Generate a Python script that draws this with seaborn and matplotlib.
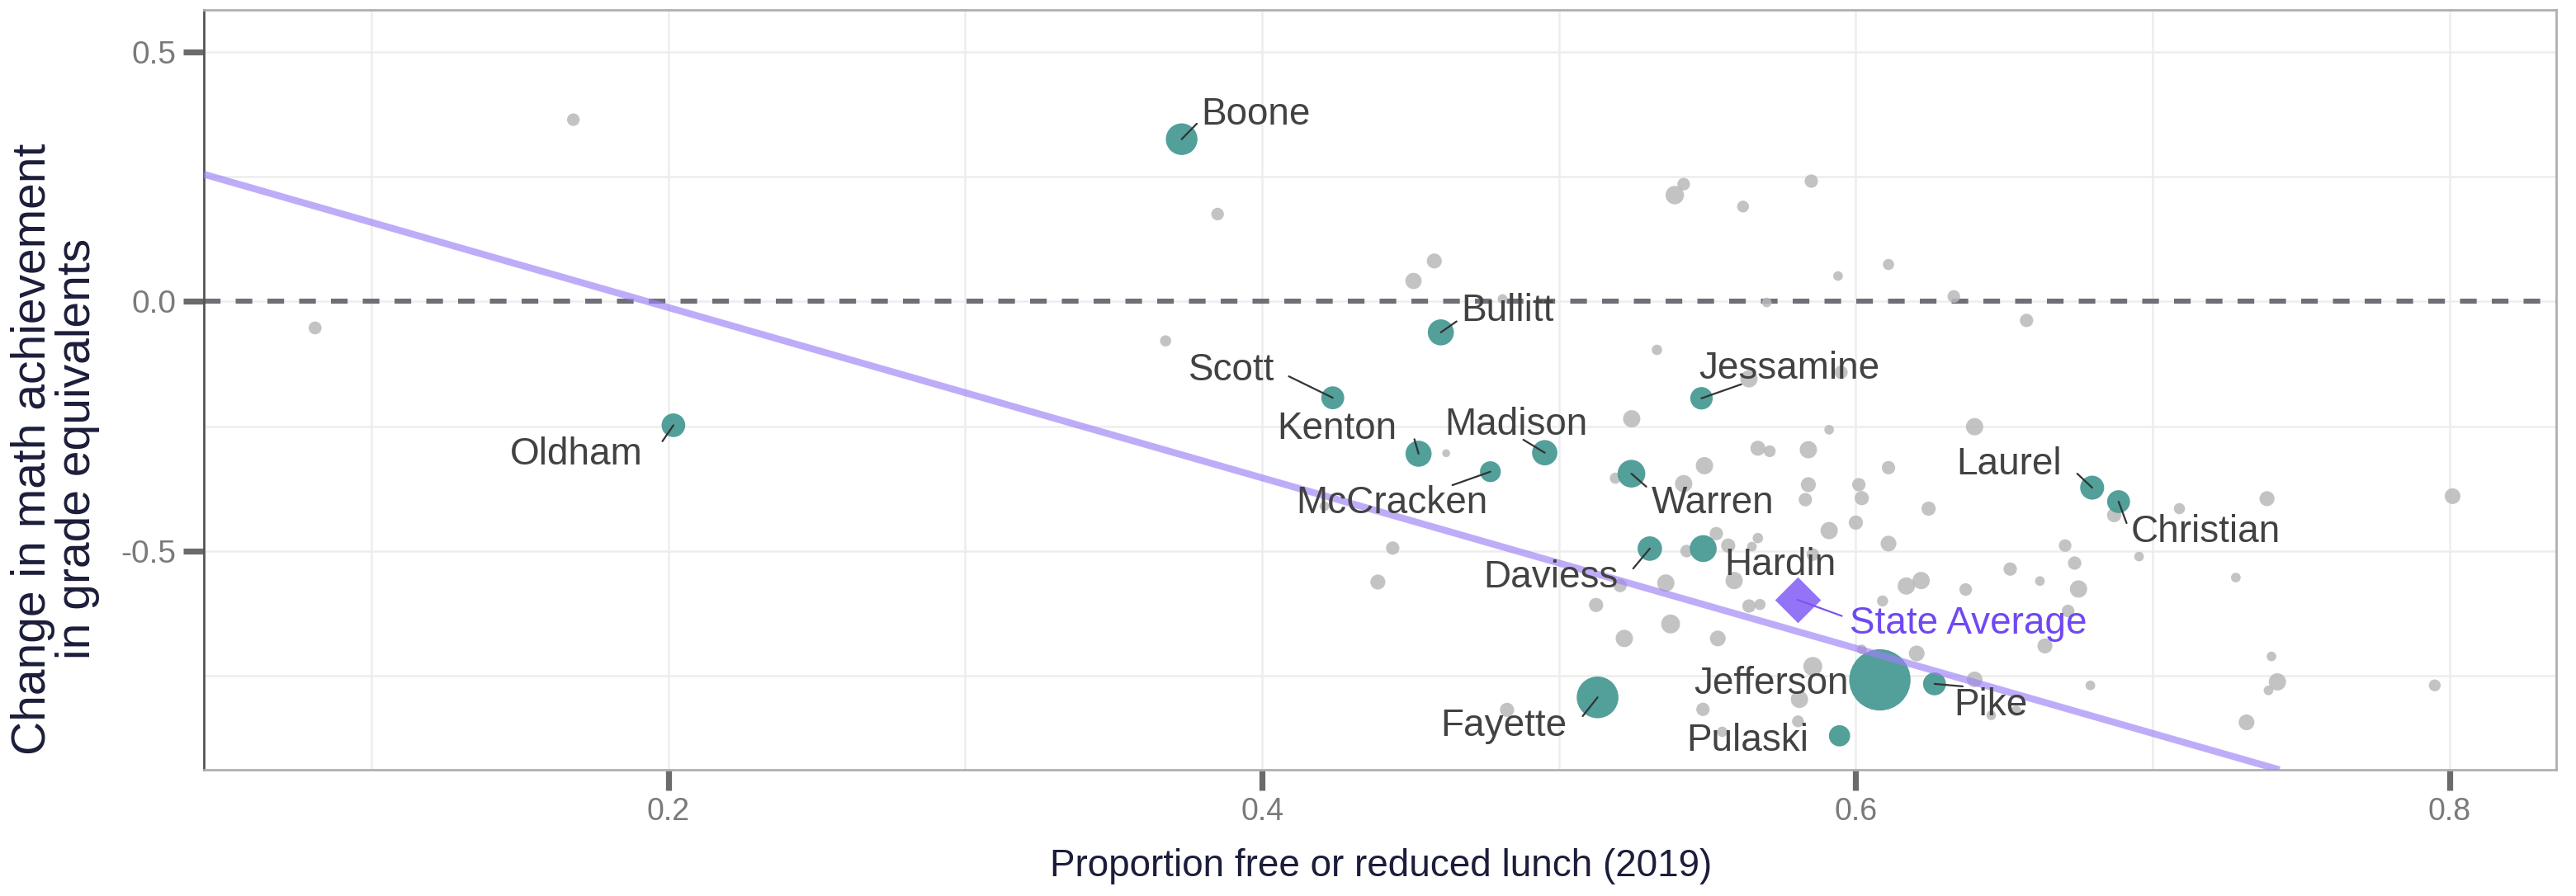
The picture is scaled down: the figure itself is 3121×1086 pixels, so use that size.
import matplotlib.pyplot as plt
import pandas as pd
import seaborn as sns

# District data
# grey districts: free/reduced lunch share, change in grade equivalents, students (thousands)
other_frl = [0.081, 0.168, 0.385, 0.458, 0.451, 0.481, 0.3675, 0.539, 0.542, 0.562,
             0.585, 0.533, 0.570, 0.564, 0.5245, 0.462, 0.567, 0.571, 0.584, 0.549,
             0.519, 0.542, 0.584, 0.583, 0.444, 0.439, 0.553, 0.567, 0.557, 0.565,
             0.543, 0.536, 0.559, 0.5125, 0.564, 0.5677, 0.5376, 0.522, 0.5535, 0.5855,
             0.6205, 0.602, 0.640, 0.679, 0.581, 0.5485, 0.4825, 0.5805, 0.555, 0.611,
             0.591, 0.600, 0.6245, 0.602, 0.622, 0.617, 0.609, 0.637, 0.652, 0.662,
             0.6705, 0.6737, 0.675, 0.6715, 0.6637, 0.6954, 0.640, 0.709, 0.7385, 0.801,
             0.687, 0.728, 0.740, 0.742, 0.739, 0.795, 0.7316, 0.611, 0.594, 0.633,
             0.6575, 0.595, 0.591, 0.611, 0.601, 0.5855, 0.5206, 0.421, 0.6456, 0.654]
other_change = [-0.053, 0.364, 0.175, 0.081, 0.041, 0.005, -0.079, 0.213, 0.235, 0.190,
                0.241, -0.097, -0.002, -0.155, -0.235, -0.304, -0.294, -0.300, -0.297, -0.329,
                -0.354, -0.365, -0.367, -0.397, -0.494, -0.562, -0.465, -0.474, -0.489, -0.491,
                -0.500, -0.564, -0.559, -0.608, -0.610, -0.607, -0.646, -0.675, -0.675, -0.731,
                -0.705, -0.697, -0.757, -0.769, -0.797, -0.817, -0.818, -0.841, -0.862, -0.485,
                -0.459, -0.443, -0.415, -0.394, -0.559, -0.570, -0.600, -0.577, -0.536, -0.560,
                -0.489, -0.524, -0.576, -0.620, -0.690, -0.511, -0.251, -0.415, -0.395, -0.390,
                -0.428, -0.553, -0.711, -0.762, -0.779, -0.769, -0.843, 0.074, 0.051, 0.010,
                -0.038, -0.142, -0.257, -0.333, -0.367, -0.507, -0.569, -0.410, -0.829, -0.820]
other_students = [3.5, 3.3, 3.3, 5.0, 6.0, 1.6, 2.4, 8.0, 3.3, 2.8,
                  3.8, 2.0, 1.6, 6.9, 6.9, 0.8, 5.0, 2.8, 6.9, 6.9,
                  2.4, 6.9, 5.0, 3.8, 3.8, 5.0, 3.8, 2.0, 4.4, 1.6,
                  3.3, 6.9, 6.9, 4.4, 3.8, 2.4, 8.4, 6.9, 5.6, 8.4,
                  5.6, 1.6, 5.6, 1.6, 6.9, 3.8, 4.4, 2.8, 2.0, 5.6,
                  6.9, 4.4, 4.4, 4.4, 6.9, 6.9, 2.4, 3.3, 3.8, 1.6,
                  3.3, 3.8, 6.9, 3.3, 5.0, 1.6, 6.9, 2.4, 5.0, 5.6,
                  4.4, 1.6, 1.6, 6.9, 1.6, 2.8, 5.6, 2.4, 1.6, 3.3,
                  3.8, 3.8, 1.6, 3.8, 3.8, 3.3, 3.8, 1.6, 1.6, 2.0]

# highlighted districts
county = ['Boone', 'Oldham', 'Bullitt', 'Scott', 'Kenton', 'McCracken', 'Madison',
          'Warren', 'Jessamine', 'Daviess', 'Hardin', 'Laurel', 'Christian',
          'Fayette', 'Jefferson', 'Pike', 'Pulaski']
county_frl = [0.3729, 0.2017, 0.4602, 0.4238, 0.4527, 0.4769, 0.4952,
              0.5244, 0.548, 0.5306, 0.5486, 0.6796, 0.6885,
              0.513, 0.6081, 0.6265, 0.5945]
county_change = [0.325, -0.248, -0.062, -0.193, -0.305, -0.341, -0.303,
                 -0.345, -0.194, -0.495, -0.495, -0.373, -0.401,
                 -0.793, -0.758, -0.766, -0.870]
county_students = [25, 13.6, 16.7, 12.7, 16.7, 10.4, 15.7,
                   19, 12.2, 14.6, 17.8, 14, 12.7,
                   44, 96, 12.7, 10.8]

state_frl = 0.5803
state_change = -0.5975

# fitted line across districts
fit_intercept = 0.329
fit_slope = -1.706

df_other = pd.DataFrame({'frl': other_frl, 'change': other_change,
                         'students': other_students})
df_county = pd.DataFrame({'county': county, 'frl': county_frl,
                          'change': county_change, 'students': county_students})

# label layout (data coords): text centre, end of leader line
label_pos = {
    'Boone': ((0.398, 0.374), (0.378, 0.356)),
    'Oldham': ((0.169, -0.307), (0.198, -0.280)),
    'Bullitt': ((0.4827, -0.019), (0.4655, -0.040)),
    'Scott': ((0.3896, -0.138), (0.409, -0.150)),
    'Kenton': ((0.4252, -0.255), (0.4513, -0.276)),
    'Madison': ((0.4855, -0.247), (0.488, -0.277)),
    'McCracken': ((0.4438, -0.404), (0.4641, -0.368)),
    'Warren': ((0.5517, -0.404), (0.5294, -0.371)),
    'Jessamine': ((0.5775, -0.135), (0.5614, -0.166)),
    'Daviess': ((0.4972, -0.553), (0.525, -0.535)),
    'Hardin': ((0.5745, -0.528), None),
    'Laurel': ((0.6515, -0.326), (0.6746, -0.345)),
    'Christian': ((0.7179, -0.462), (0.6912, -0.444)),
    'Fayette': ((0.4813, -0.850), (0.508, -0.8306)),
    'Jefferson': ((0.5714, -0.766), None),
    'Pike': ((0.6454, -0.809), (0.636, -0.771)),
    'Pulaski': ((0.5634, -0.880), None),
}

sns.set_theme(style='white')
plt.rcParams['font.family'] = ['Liberation Sans', 'DejaVu Sans']
plt.rcParams['axes.unicode_minus'] = False

fig, ax = plt.subplots(figsize=(3121 / 200, 1086 / 200), dpi=200)
fig.subplots_adjust(left=0.0791, right=0.9923, bottom=0.1409, top=0.989)

size_kw = dict(size='students', sizes=(6, 745), size_norm=(0, 100), legend=False)

sns.scatterplot(data=df_other, x='frl', y='change', color='#b9b9b9', alpha=0.85,
                linewidth=0, ax=ax, zorder=2, **size_kw)
sns.scatterplot(data=df_county, x='frl', y='change', color='#4a9a95', alpha=0.95,
                linewidth=0, ax=ax, zorder=3, **size_kw)
sns.scatterplot(x=[state_frl], y=[state_change], marker='D', s=200, color='#8e6cf6',
                linewidth=0, alpha=0.95, ax=ax, zorder=3, legend=False)

ax.axhline(0, color='#6f6f78', lw=2.2, dashes=(3.3, 3.0), zorder=1.5)
ax.axline((0, fit_intercept), slope=fit_slope, color='#9d80f7', alpha=0.65,
          lw=3.0, zorder=4, solid_capstyle='butt')

# labels with leader lines
for name, px, py in zip(county, county_frl, county_change):
    (tx, ty), seg = label_pos[name]
    if seg is not None:
        ax.plot([px, seg[0]], [py, seg[1]], color='#333333', lw=0.8, zorder=5)
    ax.text(tx, ty, name, ha='center', va='center', fontsize=16.5,
            color='#424242', zorder=6)

ax.plot([state_frl, 0.5953], [state_change, -0.630], color='#7b55f0', lw=0.8, zorder=5)
ax.text(0.6379, -0.6455, 'State Average', ha='center', va='center', fontsize=16.5,
        color='#7048f2', zorder=6)

ax.set_xlim(0.0435, 0.8359)
ax.set_ylim(-0.938, 0.584)
ax.set_xticks([0.2, 0.4, 0.6, 0.8])
ax.set_xticks([0.1, 0.3, 0.5, 0.7], minor=True)
ax.set_yticks([0.5, 0.0, -0.5])
ax.set_yticks([0.25, -0.25, -0.75], minor=True)
ax.set_xticklabels(['0.2', '0.4', '0.6', '0.8'])
ax.set_yticklabels(['0.5', '0.0', '-0.5'])
ax.grid(which='both', color='#ededed', lw=0.9)
ax.set_axisbelow(True)
ax.tick_params(which='major', direction='out', length=9, width=2.6, color='#6b6b6b',
               labelcolor='#7a7a7a', pad=3)
ax.tick_params(axis='x', which='major', bottom=True, labelsize=13.5)
ax.tick_params(axis='y', which='major', left=True, labelsize=14)
ax.tick_params(which='minor', length=0)

for side, spine in ax.spines.items():
    spine.set_visible(True)
    spine.set_linewidth(1.0)
    spine.set_color('#555555' if side == 'left' else '#b0b0b0')

ax.set_xlabel('')
ax.set_ylabel('')
fig.text(0.536, 0.033, 'Proportion free or reduced lunch (2019)', ha='center',
         va='center', fontsize=16.5, color='#1b1d3a')
fig.text(0.0215, 0.499, 'Change in math achievement\nin grade equivalents',
         ha='center', va='center', rotation=90, multialignment='center',
         fontsize=20.5, color='#1b1d3a', linespacing=1.0)

fig.savefig('out.png', dpi=200)
